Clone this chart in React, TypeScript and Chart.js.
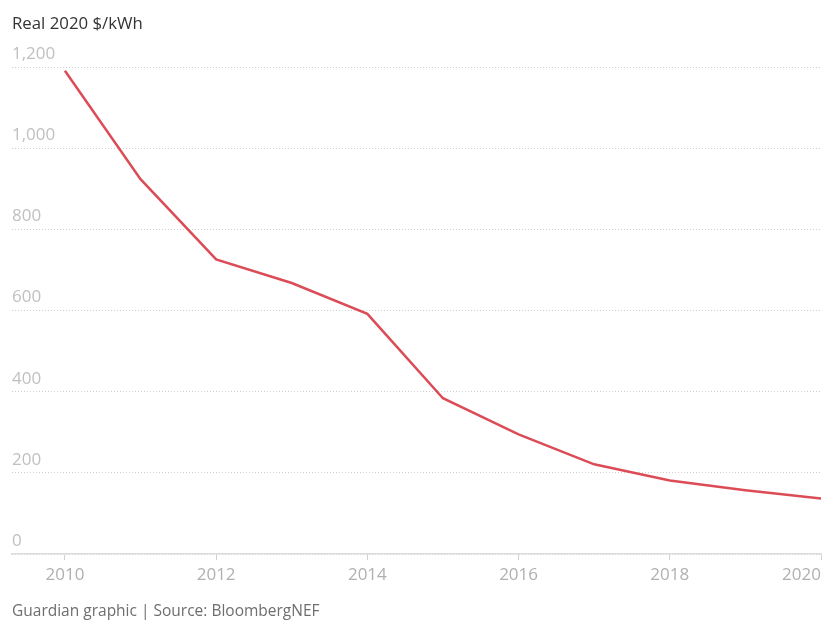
import React, { useEffect, useRef } from "react";
import { Chart, registerables } from "chart.js";

Chart.register(...registerables);

const years = [2010, 2011, 2012, 2013, 2014, 2015, 2016, 2017, 2018, 2019, 2020];
const prices = [1191, 924, 726, 668, 592, 384, 295, 221, 181, 157, 137];
const xTickYears = [2010, 2012, 2014, 2016, 2018, 2020];
const yTicks = [0, 200, 400, 600, 800, 1000, 1200];
const unitLabel = "Real 2020 $/kWh";
const sourceLabel = "Guardian graphic | Source: BloombergNEF";

const FONT = "'Open Sans', 'Noto Sans', sans-serif";
const X_MIN = 2009.3;

export default function App() {
  const ref = useRef<HTMLCanvasElement | null>(null);

  useEffect(() => {
    if (!ref.current) return;
    const chart = new Chart(ref.current, {
      type: "line",
      data: {
        datasets: [
          {
            data: years.map((y, i) => ({ x: y, y: prices[i] })),
            borderColor: "rgb(220, 76, 86)",
            borderWidth: 2.5,
            pointRadius: 0,
            tension: 0,
            fill: false,
          },
        ],
      },
      options: {
        animation: false,
        responsive: false,
        maintainAspectRatio: false,
        layout: { padding: { left: 12, right: 4, top: 0, bottom: 0 } },
        plugins: {
          legend: { display: false },
          tooltip: { enabled: false },
          title: {
            display: true,
            text: unitLabel,
            align: "start",
            color: "#333333",
            font: { family: FONT, size: 16.8, weight: "normal" },
            padding: { top: 14, bottom: 33 },
          },
          subtitle: {
            display: true,
            position: "bottom",
            text: sourceLabel,
            align: "start",
            color: "#6e6e6e",
            font: { family: FONT, size: 15.5, weight: "normal" },
            padding: { top: 12, bottom: 1 },
          },
        },
        scales: {
          x: {
            type: "linear",
            min: X_MIN,
            max: 2020,
            afterBuildTicks: (scale: any) => {
              scale.ticks = [{ value: X_MIN }, ...xTickYears.map((v) => ({ value: v }))];
            },
            border: { display: true, color: "#dcdcdc", width: 1.5 },
            grid: {
              drawOnChartArea: false,
              drawTicks: true,
              tickLength: 6,
              tickColor: (ctx: any) => (ctx.index === 0 ? "rgba(0,0,0,0)" : "#d0d0d0"),
            },
            ticks: {
              align: "inner",
              padding: 5,
              maxRotation: 0,
              autoSkip: false,
              color: "#b0b0b0",
              font: { family: FONT, size: 17 },
              callback: (v: any) => (v < 2010 ? "" : String(v)),
            },
          },
          y: {
            min: 0,
            max: 1200,
            afterBuildTicks: (scale: any) => {
              scale.ticks = yTicks.map((v) => ({ value: v }));
            },
            border: { display: false, dash: [1, 2] },
            grid: {
              drawTicks: false,
              color: "#cfcfcf",
              lineWidth: 1,
            },
            ticks: {
              mirror: true,
              padding: 0,
              labelOffset: -13,
              color: "#c0c0c0",
              font: { family: FONT, size: 17 },
              callback: (v: any) => Number(v).toLocaleString("en-US"),
            },
          },
        },
      },
    });
    return () => chart.destroy();
  }, []);

  return (
    <div style={{ position: "absolute", left: 0, top: 0, width: 826, height: 622 }}>
      <canvas ref={ref} width={826} height={622} style={{ width: 826, height: 622 }} />
    </div>
  );
}
